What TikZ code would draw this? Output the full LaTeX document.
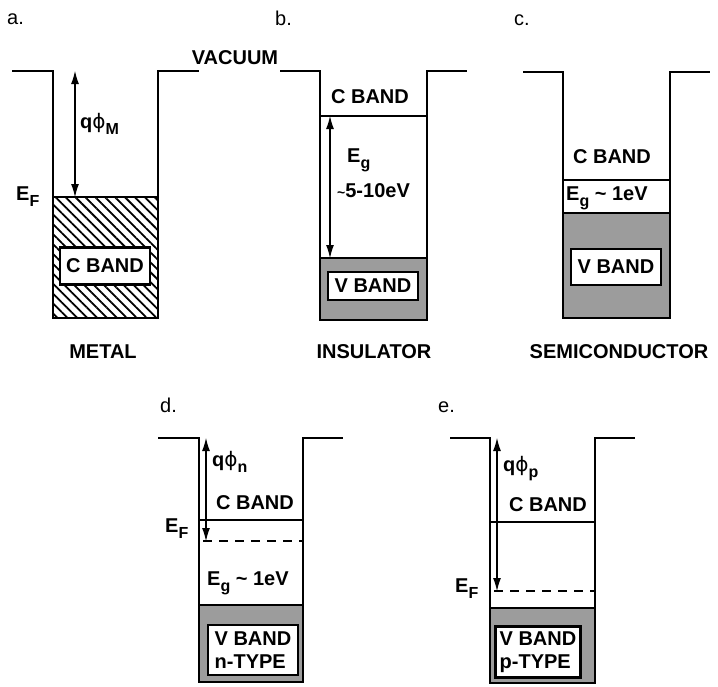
\documentclass[tikz,border=0pt]{standalone}
\usepackage{fontspec}
\setmainfont{Liberation Sans}
\newfontfamily\phifont{DejaVu Sans}
\usepackage{tikz}
\usepackage{xcolor}
\usetikzlibrary{arrows.meta}
\usetikzlibrary{patterns.meta}
\newcommand{\lowsub}[1]{\raisebox{-0.32em}{\fontsize{16}{16}\selectfont #1}}
\newcommand{\tld}{\textasciitilde}
\newcommand{\wphi}{{\phifont\mdseries\char"03D5}}
\definecolor{bandColor}{HTML}{9C9C9C}

\begin{document}
\begin{tikzpicture}[
		x=1pt, y=-1pt,
		well/.style={draw=black, line width=2.4pt, line join=miter},
		edge line/.style={draw=black, line width=1.4pt},
		fermi line/.style={draw=black, line width=1.4pt, dash pattern=on 9pt off 7pt},
		level arrow/.style={{Latex[length=13pt, width=8pt]}-{Latex[length=13pt, width=8pt]}, line width=1.1pt},
		valence/.style={fill=bandColor},
		hatched/.style={pattern={Lines[angle=-45, distance=7pt, line width=1.8pt]}},
		band text/.style={font=\fontsize{20}{23}\selectfont\bfseries, inner sep=0pt},
		band box/.style={band text, draw=black, line width=2.4pt, fill=white, minimum width=90pt},
		panel label/.style={font=\fontsize{20}{23}\selectfont, inner sep=0pt},
	]
	\useasboundingbox (0,0) rectangle (718,686);
	% Panel labels
	\node[panel label, anchor=west] (label a) at (7,19) {a.};
	\node[panel label, anchor=west] (label b) at (275,18) {b.};
	\node[panel label, anchor=west] (label c) at (514,20) {c.};
	\node[panel label, anchor=west] (label d) at (160,405) {d.};
	\node[panel label, anchor=west] (label e) at (438,407) {e.};
	\node[band text] (vacuum) at (235,58) {VACUUM};
	% a. metal
	\path[hatched] (53,197) rectangle (158,318);
	\draw[edge line] (53,197) -- (158,197);
	\node[band box, minimum height=37pt] (c box a) at (105,266) {C BAND};
	\draw[well] (12,71) -- (53,71) -- (53,318) -- (158,318) -- (158,71) -- (199,71);
	\coordinate (vac a) at (75,71);
	\coordinate (fermi a) at (75,197);
	\draw[level arrow] (vac a) -- (fermi a);
	\node[band text, anchor=base west] (phi a) at (80,128) {q\wphi\lowsub{M}};
	\node[band text, anchor=base west] (ef a) at (16,200) {E\lowsub{F}};
	\node[band text] (metal) at (103,352) {METAL};
	% b. insulator
	\path[valence] (320,258) rectangle (427,320);
	\draw[edge line] (320,258) -- (427,258);
	\draw[edge line] (320,116) -- (427,116);
	\node[band box, minimum height=28pt] (v box b) at (373,286) {V BAND};
	\draw[well] (280,71) -- (320,71) -- (320,320) -- (427,320) -- (427,71) -- (467,71);
	\node[band text] (c band b) at (370,97) {C BAND};
	\coordinate (top b) at (330,116);
	\coordinate (bot b) at (330,258);
	\draw[level arrow] (top b) -- (bot b);
	\node[band text, anchor=base west] (eg b) at (347,162) {E\lowsub{g}};
	\node[band text, anchor=base west] (gap b) at (337,197) {{\fontsize{14}{14}\selectfont\tld}5-10eV};
	\node[band text] (insulator) at (374,352) {INSULATOR};
	% c. semiconductor
	\path[valence] (563,213) rectangle (670,318);
	\draw[edge line] (563,213) -- (670,213);
	\draw[edge line] (563,180) -- (670,180);
	\node[band box, minimum height=36pt] (v box c) at (616,267) {V BAND};
	\draw[well] (523,72) -- (563,72) -- (563,318) -- (670,318) -- (670,72) -- (710,72);
	\node[band text] (c band c) at (612,157) {C BAND};
	\node[band text, anchor=base west] (eg c) at (566,200) {E\lowsub{g} \tld{} 1eV};
	\node[band text] (semiconductor) at (619,352) {SEMICONDUCTOR};
	% d. n-type
	\path[valence] (199,605) rectangle (303,682);
	\draw[edge line] (199,605) -- (303,605);
	\draw[edge line] (199,520) -- (303,520);
	\draw[fermi line] (203,541) -- (303,541);
	\node[band box, minimum height=50pt, align=left] (v box d) at (253,650) {V BAND\\n-TYPE};
	\draw[well] (158,438) -- (199,438) -- (199,682) -- (303,682) -- (303,438) -- (343,438);
	\node[band text] (c band d) at (255,503) {C BAND};
	\coordinate (vac d) at (206,438);
	\coordinate (fermi d) at (206,541);
	\draw[level arrow] (vac d) -- (fermi d);
	\node[band text, anchor=base west] (phi d) at (212,466) {q\wphi\lowsub{n}};
	\node[band text, anchor=base west] (ef d) at (165,532) {E\lowsub{F}};
	\node[band text, anchor=base west] (eg d) at (207,585) {E\lowsub{g} \tld{} 1eV};
	% e. p-type
	\path[valence] (490,608) rectangle (595,683);
	\draw[edge line] (490,608) -- (595,608);
	\draw[edge line] (490,522) -- (595,522);
	\draw[fermi line] (494,591) -- (595,591);
	\node[band box, minimum height=51pt, minimum width=85pt, align=left] (v box e) at (538,652) {V BAND\\p-TYPE};
	\draw[well] (450,438) -- (490,438) -- (490,683) -- (595,683) -- (595,438) -- (635,438);
	\node[band text] (c band e) at (548,505) {C BAND};
	\coordinate (vac e) at (497,438);
	\coordinate (fermi e) at (497,591);
	\draw[level arrow] (vac e) -- (fermi e);
	\node[band text, anchor=base west] (phi e) at (503,471) {q\wphi\lowsub{p}};
	\node[band text, anchor=base west] (ef e) at (455,592) {E\lowsub{F}};
\end{tikzpicture}
\end{document}
